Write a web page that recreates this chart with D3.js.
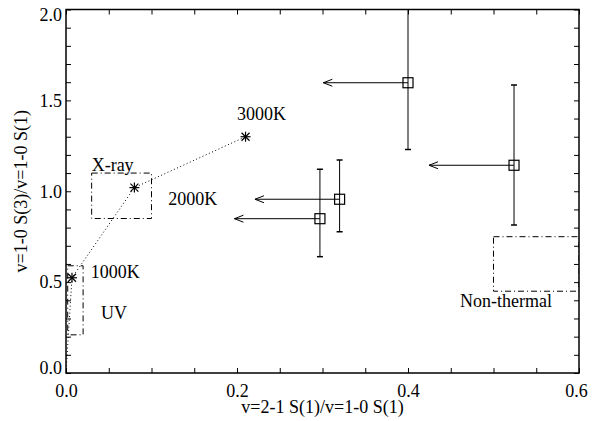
<!DOCTYPE html>
<html><head><meta charset="utf-8">
<script src="https://cdn.jsdelivr.net/npm/d3@7"></script>
<style>
body{margin:0;background:#fff;}
text{font-family:"Liberation Serif","Times New Roman",serif;font-size:18px;fill:#000;}
</style></head>
<body><svg id="c" width="592" height="421"></svg>
<script>
// ---- data ----
const xTicks = [0,0.05,0.1,0.15,0.2,0.25,0.3,0.35,0.4,0.45,0.5,0.55,0.6];
const xLabels = [0.0,0.2,0.4,0.6];
const yTicks = [0,0.1,0.2,0.3,0.4,0.5,0.6,0.7,0.8,0.9,1.0,1.1,1.2,1.3,1.4,1.5,1.6,1.7,1.8,1.9,2.0];
const yLabels = [0.0,0.5,1.0,1.5,2.0];

// thermal model track
const trackX = [0.0, 0.007, 0.080, 0.210];
const trackY = [0.0, 0.524, 1.02, 1.30];
const tempNames = ["1000K","2000K","3000K"];
const tempX = [0.007, 0.080, 0.210];
const tempY = [0.524, 1.02, 1.30];
const tempLabelX = [0.029, 0.1196, 0.200];
const tempLabelY = [0.523, 0.924, 1.392];

// observations (x upper limits, y error bars)
const obsX   = [0.297, 0.320, 0.400, 0.524];
const obsY   = [0.849, 0.956, 1.597, 1.143];
const obsYlo = [0.640, 0.777, 1.230, 0.814];
const obsYhi = [1.121, 1.172, 2.050, 1.585];
const obsLimX = [0.197, 0.221, 0.301, 0.4246];

// excitation regions
const regNames = ["X-ray","UV","Non-thermal"];
const regX0 = [0.030, 0.002, 0.500];
const regX1 = [0.100, 0.020, 0.600];
const regY0 = [0.850, 0.210, 0.450];
const regY1 = [1.100, 0.590, 0.750];
const regLabelX = [0.030, 0.041, 0.4608];
const regLabelY = [1.111, 0.297, 0.361];

const xTitle = "v=2-1 S(1)/v=1-0 S(1)";
const yTitle = "v=1-0 S(3)/v=1-0 S(1)";

// ---- drawing ----
const L=66,R=579,T=9.5,B=373;
const x = d3.scaleLinear([0,0.6],[L,R]);
const y = d3.scaleLinear([0,2],[B,T]);
const svg = d3.select("#c");

svg.append("defs").append("clipPath").attr("id","clip")
  .append("rect").attr("x",L).attr("y",T).attr("width",R-L).attr("height",B-T);

const fmt = d3.format(".1f");
const lab = v => xLabels.some(l=>Math.abs(l-v)<1e-9) ? fmt(v) : "";
const labY = v => yLabels.some(l=>Math.abs(l-v)<1e-9) ? fmt(v) : "";

const gB = svg.append("g").attr("transform",`translate(0,${B})`)
  .call(d3.axisBottom(x).tickValues(xTicks).tickFormat(lab).tickSizeInner(-5).tickSizeOuter(0).tickPadding(11));
const gT = svg.append("g").attr("transform",`translate(0,${T})`)
  .call(d3.axisTop(x).tickValues(xTicks).tickFormat("").tickSizeInner(-5).tickSizeOuter(0));
const gL = svg.append("g").attr("transform",`translate(${L},0)`)
  .call(d3.axisLeft(y).tickValues(yTicks).tickFormat(labY).tickSizeInner(-5).tickSizeOuter(0).tickPadding(4));
const gR = svg.append("g").attr("transform",`translate(${R},0)`)
  .call(d3.axisRight(y).tickValues(yTicks).tickFormat("").tickSizeInner(-5).tickSizeOuter(0));
[gB,gT,gL,gR].forEach(g=>{
  g.select(".domain").remove();
  g.selectAll("line").attr("stroke","#000").attr("stroke-width",1);
  g.selectAll("text").attr("font-size",null).attr("font-family",null).style("font-size","18px");
});
// shift end labels inside like the original
gL.selectAll(".tick").filter(d=>Math.abs(d-2)<1e-9).select("text").attr("dy","0.32em").attr("y",5.5);
gL.selectAll(".tick").filter(d=>Math.abs(d)<1e-9).select("text").attr("y",-5);
gB.selectAll(".tick").filter(d=>Math.abs(d-0.6)<1e-9).select("text").attr("x",-3);

svg.append("rect").attr("x",L).attr("y",T).attr("width",R-L).attr("height",B-T)
  .attr("fill","none").attr("stroke","#000").attr("stroke-width",1.5);

svg.append("text").attr("x",(L+R)/2).attr("y",413).attr("text-anchor","middle").text(xTitle);
svg.append("text").attr("transform",`translate(27,${(T+B)/2}) rotate(-90)`).attr("text-anchor","middle").text(yTitle);

const plot = svg.append("g").attr("clip-path","url(#clip)");

// regions
regNames.forEach((n,i)=>{
  plot.append("rect").attr("x",x(regX0[i])).attr("y",y(regY1[i]))
    .attr("width",x(regX1[i])-x(regX0[i])).attr("height",y(regY0[i])-y(regY1[i]))
    .attr("fill","none").attr("stroke","#000").attr("stroke-width",1).attr("stroke-dasharray","6,3,1,3");
  svg.append("text").attr("x",x(regLabelX[i])).attr("y",y(regLabelY[i])).text(n);
});

// track
plot.append("path").datum(trackX.map((v,i)=>[v,trackY[i]]))
  .attr("d",d3.line().x(d=>x(d[0])).y(d=>y(d[1])))
  .attr("fill","none").attr("stroke","#000").attr("stroke-width",1).attr("stroke-dasharray","1,2.5");

tempNames.forEach((n,i)=>{
  const cx=x(tempX[i]), cy=y(tempY[i]), s=5, d=4;
  const g=svg.append("g").attr("stroke","#000").attr("stroke-width",1.2);
  g.append("line").attr("x1",cx-s).attr("x2",cx+s).attr("y1",cy).attr("y2",cy);
  g.append("line").attr("x1",cx).attr("x2",cx).attr("y1",cy-s).attr("y2",cy+s);
  g.append("line").attr("x1",cx-d).attr("x2",cx+d).attr("y1",cy-d).attr("y2",cy+d);
  g.append("line").attr("x1",cx-d).attr("x2",cx+d).attr("y1",cy+d).attr("y2",cy-d);
  svg.append("text").attr("x",x(tempLabelX[i])).attr("y",y(tempLabelY[i])).text(n);
});

// observations
obsX.forEach((v,i)=>{
  const cx=x(v), cy=y(obsY[i]);
  const g=plot.append("g").attr("stroke","#000").attr("stroke-width",1).attr("fill","none");
  g.append("line").attr("x1",cx).attr("x2",cx).attr("y1",y(obsYlo[i])).attr("y2",y(obsYhi[i]));
  [obsYlo[i],obsYhi[i]].forEach(e=>g.append("line").attr("x1",cx-3).attr("x2",cx+3).attr("y1",y(e)).attr("y2",y(e)).attr("stroke-width",1.5));
  const ax=x(obsLimX[i]);
  g.append("line").attr("x1",cx).attr("x2",ax).attr("y1",cy).attr("y2",cy);
  g.append("path").attr("d",`M${ax+9},${cy-3.5}L${ax},${cy}L${ax+9},${cy+3.5}`);
  g.append("rect").attr("x",cx-5).attr("y",cy-5).attr("width",10).attr("height",10).attr("stroke-width",1.2);
});
</script></body></html>
